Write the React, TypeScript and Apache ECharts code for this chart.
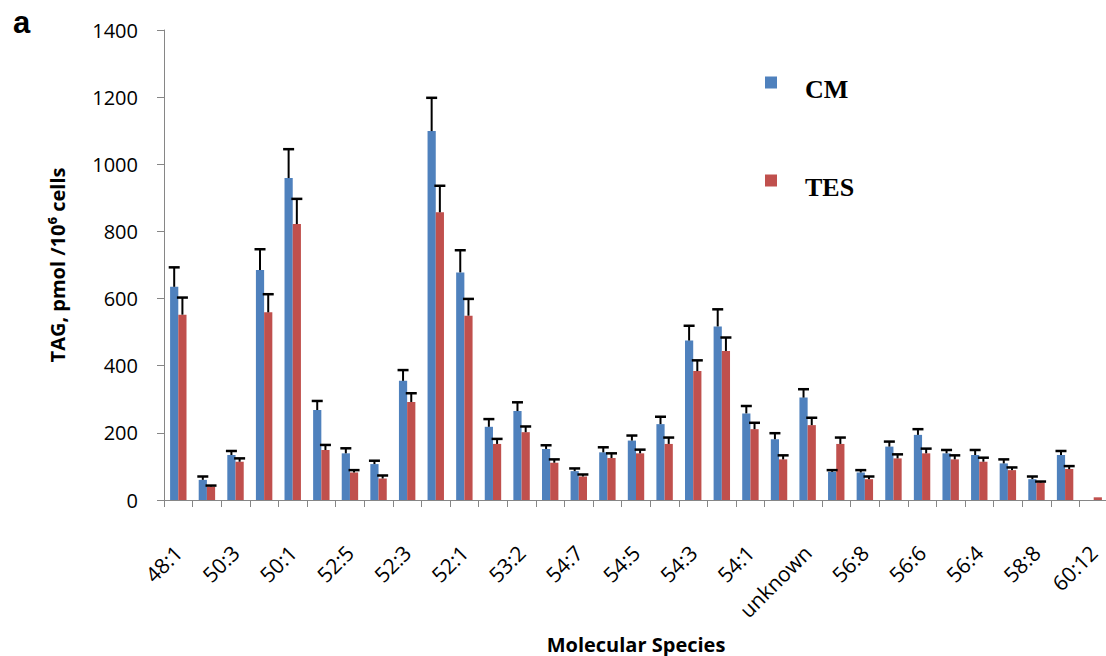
import React, { useEffect, useRef } from "react";
import * as echarts from "echarts";

const categories = [
  "48:1", "48:0", "50:3", "50:2", "50:1", "50:0", "52:5", "52:4", "52:3", "52:2",
  "52:1", "52:0", "53:2", "53:1", "54:7", "54:6", "54:5", "54:4", "54:3", "54:2",
  "54:1", "54:0", "unknown", "56:9", "56:8", "56:7", "56:6", "56:5", "56:4", "56:2",
  "58:8", "58:6", "60:12",
];

const cmValues = [635, 60, 134, 685, 959, 268, 139, 107, 355, 1099, 678, 218, 265, 152, 86, 142, 177, 226, 475, 517, 258, 181, 305, 84, 82, 159, 194, 139, 134, 109, 62, 134, 0];
const cmErrors: (number | null)[] = [58, 10, 12, 62, 86, 27, 15, 10, 32, 99, 66, 23, 26, 11, 8, 15, 15, 22, 44, 51, 22, 18, 25, 5, 7, 15, 17, 10, 15, 12, 8, 12, null];
const tesValues = [552, 40, 114, 559, 822, 149, 82, 64, 292, 857, 549, 167, 202, 111, 70, 125, 139, 167, 384, 444, 211, 121, 223, 167, 62, 124, 139, 121, 114, 89, 52, 92, 8];
const tesErrors: (number | null)[] = [51, 3, 10, 54, 75, 15, 7, 9, 26, 79, 50, 15, 17, 10, 6, 14, 11, 19, 32, 40, 19, 12, 22, 19, 8, 12, 14, 12, 12, 8, 3, 9, null];

const yTicks = { min: 0, max: 1400, interval: 200 };

const BAR_RATIO = 0.287;
const BLUE = "#4F81BD";
const RED = "#C0504D";
const AXIS_GRAY = "#868686";

function errorSeries(name: string, vals: number[], errs: (number | null)[], sign: number) {
  const data: number[][] = [];
  vals.forEach((v, i) => {
    const e = errs[i];
    if (e != null) data.push([i, v, e]);
  });
  return {
    type: "custom",
    name,
    data,
    z: 10,
    silent: true,
    renderItem: (_params: any, api: any) => {
      const i = api.value(0);
      const v = api.value(1);
      const e = api.value(2);
      const band = api.size([1, 0])[0];
      const bw = band * BAR_RATIO;
      const base = api.coord([i, v]);
      const top = api.coord([i, v + e]);
      const x = base[0] + (sign * bw) / 2;
      return {
        type: "group",
        children: [
          { type: "line", shape: { x1: x, y1: base[1], x2: x, y2: top[1] }, style: { stroke: "#000", lineWidth: 2 } },
          { type: "line", shape: { x1: x - 5.5, y1: top[1], x2: x + 5.5, y2: top[1] }, style: { stroke: "#000", lineWidth: 2.5 } },
        ],
      };
    },
  };
}

export default function App() {
  const ref = useRef<HTMLDivElement>(null);
  useEffect(() => {
    document.body.style.margin = "0";
    const chart = echarts.init(ref.current!, null, { renderer: "svg" });
    chart.setOption({
      animation: false,
      backgroundColor: "#fff",
      grid: { left: 164, top: 30, width: 944, height: 470, containLabel: false, outerBoundsMode: "none" },
      legend: {
        data: ["CM", "TES"],
        orient: "vertical",
        left: 765,
        top: 63,
        padding: 0,
        itemWidth: 12,
        itemHeight: 12,
        itemGap: 59,
        icon: "rect",
        selectedMode: false,
        formatter: "{t|{name}}",
        textStyle: {
          fontFamily: "Liberation Serif",
          fontWeight: "bold",
          fontSize: 26,
          color: "#000",
          rich: {
            t: {
              fontFamily: "Liberation Serif",
              fontWeight: "bold",
              fontSize: 26,
              color: "#000",
              lineHeight: 30,
              padding: [13, 0, 0, 23],
            },
          },
        },
      },
      graphic: [
        {
          type: "text",
          x: 13,
          y: 22,
          style: {
            text: "a",
            font: "bold 31px 'Liberation Sans', Arial, sans-serif",
            fill: "#000",
            align: "left",
            verticalAlign: "middle",
          },
        },
      ],
      xAxis: {
        type: "category",
        data: categories,
        boundaryGap: true,
        name: "Molecular Species",
        nameLocation: "middle",
        nameGap: 134,
        nameTextStyle: { fontFamily: "Open Sans", fontWeight: "bold", fontSize: 20, color: "#000" },
        axisLine: { show: true, lineStyle: { color: AXIS_GRAY, width: 1 } },
        axisTick: { show: true, interval: 0, length: 7, lineStyle: { color: AXIS_GRAY } },
        axisLabel: { interval: 1, rotate: 45, margin: 49, fontFamily: "Open Sans", fontSize: 21, color: "#000" },
        splitLine: { show: false },
      },
      yAxis: {
        type: "value",
        min: yTicks.min,
        max: yTicks.max,
        interval: yTicks.interval,
        name: "TAG, pmol /10⁶ cells",
        nameLocation: "middle",
        nameGap: 97,
        nameRotate: 90,
        nameTextStyle: { fontFamily: "Open Sans", fontWeight: "bold", fontSize: 20, color: "#000" },
        axisLine: { show: true, lineStyle: { color: AXIS_GRAY, width: 1 } },
        axisTick: { show: true, length: 7, lineStyle: { color: AXIS_GRAY } },
        axisLabel: {
          margin: 26,
          fontFamily: "Open Sans",
          fontSize: 20,
          color: "#000",
          formatter: (v: number) => String(v),
        },
        splitLine: { show: false },
      },
      series: [
        { type: "bar", name: "CM", data: cmValues, barWidth: `${BAR_RATIO * 100}%`, barGap: "0%", itemStyle: { color: BLUE } },
        { type: "bar", name: "TES", data: tesValues, barWidth: `${BAR_RATIO * 100}%`, barGap: "0%", itemStyle: { color: RED } },
        errorSeries("CM error", cmValues, cmErrors, -1),
        errorSeries("TES error", tesValues, tesErrors, 1),
      ],
    });
    return () => chart.dispose();
  }, []);
  return <div ref={ref} style={{ position: "fixed", left: 0, top: 0, width: 1106, height: 656 }} />;
}
